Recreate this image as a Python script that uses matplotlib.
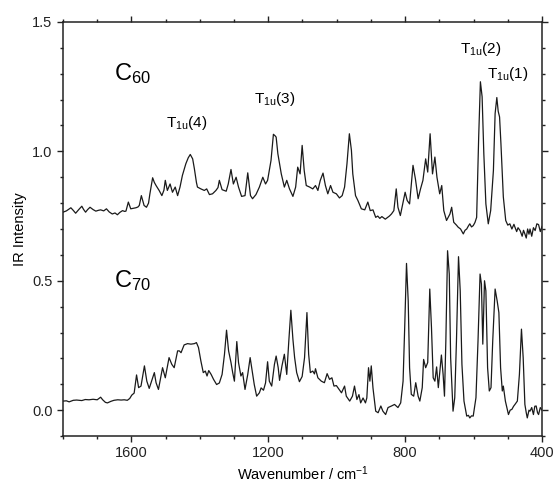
import matplotlib
matplotlib.use("Agg")
import matplotlib.pyplot as plt
from matplotlib.ticker import MultipleLocator

plt.rcParams['font.family'] = ['Liberation Sans', 'DejaVu Sans']
plt.rcParams['mathtext.fontset'] = 'custom'
plt.rcParams['mathtext.rm'] = 'Liberation Sans'
plt.rcParams['mathtext.it'] = 'Liberation Sans:italic'
plt.rcParams['mathtext.bf'] = 'Liberation Sans:bold'

# ---- data: C60 spectrum (wavenumber / cm^-1, IR intensity, offset) ----
c60_wn = [1800, 1790, 1777, 1770, 1763, 1754, 1745, 1740, 1734, 1728, 1721, 1712, 1704, 1697,
          1690, 1681, 1673, 1665, 1656, 1648, 1641, 1634, 1626, 1620, 1616, 1609, 1602, 1595,
          1587, 1581, 1577, 1571, 1563, 1556, 1550, 1546, 1538, 1533, 1528, 1519, 1511, 1505,
          1501, 1495, 1487, 1480, 1472, 1465, 1458, 1451, 1441, 1434, 1428, 1421, 1416, 1410,
          1407, 1397, 1387, 1380, 1372, 1363, 1353, 1347, 1343, 1335, 1323, 1317, 1309, 1302,
          1294, 1287, 1278, 1268, 1260, 1252, 1246, 1236, 1226, 1216, 1208, 1202, 1192, 1185,
          1180, 1177, 1172, 1167, 1162, 1153, 1146, 1138, 1128, 1120, 1114, 1107, 1101, 1095,
          1089, 1079, 1070, 1062, 1055, 1048, 1040, 1033, 1026, 1018, 1011, 1001, 992, 984,
          977, 970, 963, 957, 953, 945, 938, 928, 918, 909, 902, 894, 886, 880, 874, 868, 865,
          858, 853, 846, 840, 833, 826, 821, 814, 806, 800, 794, 787, 777, 770, 762, 755, 748,
          740, 734, 727, 720, 713, 707, 699, 693, 687, 679, 669, 664, 658, 650, 645, 638, 630,
          625, 620, 615, 611, 606, 601, 596, 591, 585, 580, 575, 570, 564, 557, 550, 542, 537,
          532, 528, 524, 520, 513, 506, 500, 494, 488, 482, 479, 474, 470, 464, 458, 454, 450,
          446, 442, 438, 435, 430, 425, 420, 415, 410, 405, 400]
c60_int = [0.765, 0.770, 0.782, 0.772, 0.761, 0.775, 0.788, 0.776, 0.765, 0.775, 0.784, 0.775,
           0.769, 0.772, 0.774, 0.770, 0.778, 0.766, 0.758, 0.762, 0.755, 0.764, 0.771, 0.768,
           0.769, 0.804, 0.778, 0.780, 0.782, 0.785, 0.791, 0.829, 0.791, 0.784, 0.800, 0.836,
           0.898, 0.880, 0.868, 0.849, 0.829, 0.850, 0.888, 0.849, 0.874, 0.842, 0.862, 0.829,
           0.862, 0.907, 0.952, 0.975, 0.988, 0.971, 0.933, 0.880, 0.862, 0.855, 0.849, 0.855,
           0.833, 0.836, 0.849, 0.860, 0.888, 0.852, 0.846, 0.874, 0.930, 0.874, 0.900, 0.862,
           0.826, 0.829, 0.917, 0.829, 0.817, 0.833, 0.862, 0.900, 0.874, 0.888, 0.965, 1.066,
           1.060, 1.055, 0.991, 0.952, 0.913, 0.862, 0.888, 0.855, 0.826, 0.862, 0.939, 0.913,
           1.023, 0.926, 0.868, 0.862, 0.855, 0.868, 0.849, 0.888, 0.916, 0.868, 0.836, 0.868,
           0.842, 0.836, 0.820, 0.829, 0.862, 0.952, 1.068, 1.004, 0.913, 0.829, 0.810, 0.778,
           0.774, 0.804, 0.771, 0.774, 0.745, 0.750, 0.741, 0.748, 0.745, 0.738, 0.743, 0.750,
           0.758, 0.771, 0.855, 0.784, 0.752, 0.804, 0.842, 0.810, 0.797, 0.946, 0.894, 0.817,
           0.855, 0.888, 0.971, 0.920, 1.068, 0.913, 0.978, 0.900, 0.836, 0.868, 0.771, 0.733,
           0.758, 0.784, 0.726, 0.715, 0.707, 0.700, 0.681, 0.695, 0.700, 0.712, 0.720, 0.708,
           0.713, 0.725, 0.745, 1.057, 1.269, 1.211, 0.991, 0.797, 0.720, 0.771, 0.926, 1.146,
           1.208, 1.155, 1.133, 1.030, 0.824, 0.733, 0.715, 0.720, 0.700, 0.718, 0.707, 0.690,
           0.705, 0.694, 0.672, 0.695, 0.681, 0.665, 0.700, 0.680, 0.700, 0.672, 0.705, 0.694,
           0.720, 0.717, 0.690, 0.710]

# ---- data: C70 spectrum ----
c70_wn = [1800, 1790, 1782, 1770, 1760, 1745, 1735, 1724, 1712, 1700, 1690, 1684, 1676, 1670,
          1660, 1651, 1640, 1630, 1621, 1612, 1605, 1599, 1592, 1585, 1579, 1572, 1562, 1555,
          1548, 1541, 1533, 1528, 1521, 1509, 1501, 1490, 1482, 1475, 1465, 1460, 1455, 1446,
          1436, 1426, 1416, 1410, 1404, 1397, 1390, 1384, 1379, 1374, 1367, 1360, 1351, 1343,
          1335, 1328, 1322, 1316, 1309, 1304, 1299, 1292, 1287, 1280, 1275, 1268, 1260, 1253,
          1247, 1241, 1234, 1226, 1221, 1214, 1208, 1202, 1197, 1190, 1182, 1177, 1171, 1167,
          1160, 1153, 1146, 1140, 1134, 1128, 1123, 1117, 1109, 1101, 1094, 1087, 1082, 1077,
          1070, 1065, 1062, 1055, 1045, 1036, 1028, 1021, 1014, 1008, 1001, 993, 986, 977, 972,
          962, 954, 948, 941, 935, 930, 923, 916, 912, 907, 903, 899, 894, 886, 879, 871, 865,
          857, 850, 840, 831, 821, 813, 806, 801, 796, 791, 787, 782, 775, 769, 762, 757, 750,
          746, 740, 734, 728, 723, 718, 713, 708, 703, 694, 689, 685, 681, 676, 671, 667, 660,
          655, 650, 644, 639, 634, 628, 620, 615, 611, 606, 601, 593, 587, 581, 577, 573, 568,
          564, 559, 554, 549, 544, 537, 531, 526, 521, 516, 513, 507, 498, 493, 488, 483, 479,
          472, 466, 460, 455, 450, 446, 443, 438, 435, 430, 425, 421, 417, 413, 410, 405, 400]
c70_int = [0.035, 0.036, 0.032, 0.038, 0.039, 0.037, 0.041, 0.040, 0.042, 0.040, 0.050, 0.040,
           0.030, 0.028, 0.034, 0.038, 0.040, 0.039, 0.040, 0.038, 0.045, 0.058, 0.066, 0.136,
           0.087, 0.093, 0.171, 0.112, 0.084, 0.112, 0.145, 0.106, 0.080, 0.164, 0.125, 0.203,
           0.177, 0.164, 0.229, 0.229, 0.222, 0.252, 0.257, 0.255, 0.257, 0.261, 0.242, 0.190,
           0.145, 0.151, 0.132, 0.153, 0.138, 0.119, 0.099, 0.105, 0.138, 0.216, 0.309, 0.229,
           0.184, 0.145, 0.112, 0.265, 0.184, 0.132, 0.145, 0.080, 0.138, 0.203, 0.151, 0.099,
           0.054, 0.067, 0.086, 0.077, 0.105, 0.187, 0.112, 0.093, 0.177, 0.209, 0.164, 0.115,
           0.171, 0.216, 0.138, 0.267, 0.386, 0.274, 0.203, 0.145, 0.110, 0.130, 0.203, 0.377,
           0.216, 0.145, 0.151, 0.140, 0.160, 0.125, 0.112, 0.106, 0.141, 0.119, 0.125, 0.093,
           0.095, 0.080, 0.067, 0.093, 0.054, 0.035, 0.054, 0.093, 0.041, 0.060, 0.028, 0.047,
           0.028, 0.047, 0.164, 0.112, 0.171, 0.086, -0.004, -0.010, 0.016, -0.004, -0.017,
           0.010, 0.016, 0.022, 0.010, 0.028, 0.112, 0.332, 0.567, 0.422, 0.164, 0.061, 0.054,
           0.106, 0.054, 0.035, 0.087, 0.196, 0.164, 0.184, 0.468, 0.319, 0.125, 0.112, 0.167,
           0.087, 0.213, 0.138, 0.054, 0.267, 0.616, 0.526, 0.203, -0.004, 0.048, 0.267, 0.593,
           0.461, 0.177, 0.035, -0.023, -0.020, -0.030, -0.022, -0.023, 0.048, 0.267, 0.526,
           0.487, 0.255, 0.500, 0.461, 0.164, 0.074, 0.087, 0.267, 0.468, 0.422, 0.377, 0.164,
           0.074, 0.093, 0.035, -0.017, 0.000, 0.003, 0.015, 0.022, 0.035, 0.138, 0.313, 0.203,
           0.022, -0.010, -0.030, 0.000, -0.004, 0.010, -0.017, 0.015, 0.016, -0.010, -0.017,
           0.010, 0.000]

x_ticks = [1600, 1200, 800, 400]
y_ticks = [0.0, 0.5, 1.0, 1.5]

fig = plt.figure(figsize=(5.56, 4.82), dpi=100)
ax = fig.add_axes([0.1133, 0.0954, 0.8615, 0.859])

ax.plot(c60_wn, c60_int, color='#1a1a1a', lw=0.9)
ax.plot(c70_wn, c70_int, color='#1a1a1a', lw=0.9)

ax.set_xlim(1800, 400)
ax.set_ylim(-0.1, 1.5)
ax.set_xticks(x_ticks)
ax.set_yticks(y_ticks)
ax.xaxis.set_minor_locator(MultipleLocator(100))
ax.yaxis.set_minor_locator(MultipleLocator(0.1))
ax.tick_params(which='both', direction='out', top=True, right=True,
               labeltop=False, labelright=False, labelsize=10.5, colors='#222222')
ax.tick_params(which='major', length=4, width=1.0)
ax.tick_params(which='minor', length=2.5, width=1.0)
for s in ax.spines.values():
    s.set_linewidth(1.1)
    s.set_color('#222222')

ax.set_xlabel('Wavenumber / cm$^{-1}$', fontsize=10.5, labelpad=3)
ax.set_ylabel('IR Intensity', fontsize=10.5, labelpad=4)

ax.text(1651, 1.275, 'C$_{\\mathrm{60}}$', fontsize=17, ha='left', va='baseline')
ax.text(1651, 0.474, 'C$_{\\mathrm{70}}$', fontsize=17, ha='left', va='baseline')
ax.text(1498, 1.093, 'T$_{\\mathrm{1u}}$(4)', fontsize=11, ha='left', va='baseline')
ax.text(1241, 1.186, 'T$_{\\mathrm{1u}}$(3)', fontsize=11, ha='left', va='baseline')
ax.text(640, 1.380, 'T$_{\\mathrm{1u}}$(2)', fontsize=11, ha='left', va='baseline')
ax.text(562, 1.283, 'T$_{\\mathrm{1u}}$(1)', fontsize=11, ha='left', va='baseline')

fig.savefig('out.png', dpi=100)
